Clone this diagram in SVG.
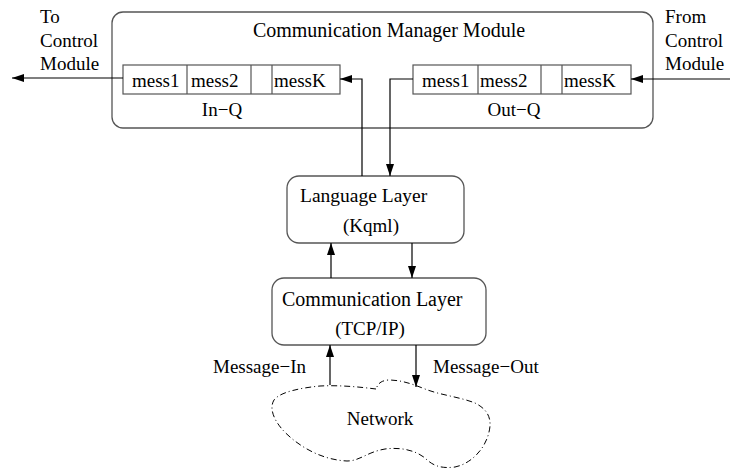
<svg xmlns="http://www.w3.org/2000/svg" width="730" height="470" viewBox="0 0 730 470">
<style>
text{font-family:"Liberation Serif","Times New Roman",serif;font-size:19px;fill:#000}
.box{fill:none;stroke:#555;stroke-width:1.3}
.cell{fill:none;stroke:#555;stroke-width:1.2}
.ln{fill:none;stroke:#000;stroke-width:1.2}
.mid{text-anchor:middle}
</style>
<defs>
<marker id="ah" markerUnits="userSpaceOnUse" markerWidth="13" markerHeight="8" refX="12" refY="4" orient="auto">
<path d="M0,0 L12,4 L0,8 z" fill="#000"/>
</marker>
</defs>
<g id="labels-ext">
<text x="40" y="23">To</text>
<text x="40" y="47">Control</text>
<text x="40" y="70">Module</text>
<text x="665" y="23">From</text>
<text x="665" y="47">Control</text>
<text x="665" y="70">Module</text>
</g>
<g id="comm-manager">
<rect class="box" x="112" y="12" width="541" height="116" rx="11"/>
<text class="mid" x="389" y="37" style="font-size:20px">Communication Manager Module</text>
</g>
<g id="in-q">
<rect class="cell" x="123" y="65" width="217" height="29"/>
<line class="cell" x1="187" y1="65" x2="187" y2="94"/>
<line class="cell" x1="251" y1="65" x2="251" y2="94"/>
<line class="cell" x1="272" y1="65" x2="272" y2="94"/>
<text x="132" y="87">mess1</text>
<text x="191" y="87">mess2</text>
<text x="274" y="87">messK</text>
<text class="mid" x="222" y="116">In−Q</text>
</g>
<g id="out-q">
<rect class="cell" x="413" y="65" width="218" height="29"/>
<line class="cell" x1="478" y1="65" x2="478" y2="94"/>
<line class="cell" x1="541" y1="65" x2="541" y2="94"/>
<line class="cell" x1="562" y1="65" x2="562" y2="94"/>
<text x="422" y="87">mess1</text>
<text x="480" y="87">mess2</text>
<text x="564" y="87">messK</text>
<text class="mid" x="514" y="116">Out−Q</text>
</g>
<g id="language-layer">
<rect class="box" x="287" y="176" width="177" height="67" rx="12"/>
<text x="300" y="202" style="font-size:19.5px">Language Layer</text>
<text class="mid" x="371" y="232">(Kqml)</text>
</g>
<g id="communication-layer">
<rect class="box" x="272" y="278" width="214" height="67" rx="12"/>
<text x="282" y="306" style="font-size:20px">Communication Layer</text>
<text class="mid" x="370" y="335">(TCP/IP)</text>
</g>
<g id="network">
<path d="M376,389 C360,387 340,385 320,386 C300,388 280,392 274,400 C268,410 276,425 290,437 C305,450 325,460 347,461 C360,461 367,452 385,449 C400,447 415,450 425,458 C432,465 440,469 455,467 C470,464 485,450 489,432 C492,420 489,410 475,403 C460,397 440,395 425,389 C410,383 400,380 388,380 C380,381 378,384 376,389 Z" fill="none" stroke="#000" stroke-width="1" stroke-dasharray="6 3 1 3"/>
<text class="mid" x="380" y="425">Network</text>
</g>
<g id="connectors">
<line class="ln" x1="123" y1="78" x2="12" y2="78" marker-end="url(#ah)"/>
<polyline class="ln" points="362,176 362,79 340,79" marker-end="url(#ah)"/>
<line class="ln" x1="730" y1="79" x2="631" y2="79" marker-end="url(#ah)"/>
<polyline class="ln" points="413,79 390,79 390,176" marker-end="url(#ah)"/>
<line class="ln" x1="331" y1="278" x2="331" y2="243" marker-end="url(#ah)"/>
<line class="ln" x1="412" y1="243" x2="412" y2="278" marker-end="url(#ah)"/>
<line class="ln" x1="330" y1="385" x2="330" y2="345" marker-end="url(#ah)"/>
<line class="ln" x1="416" y1="345" x2="416" y2="387" marker-end="url(#ah)"/>
<text x="213" y="373">Message−In</text>
<text x="433" y="373">Message−Out</text>
</g>
</svg>
